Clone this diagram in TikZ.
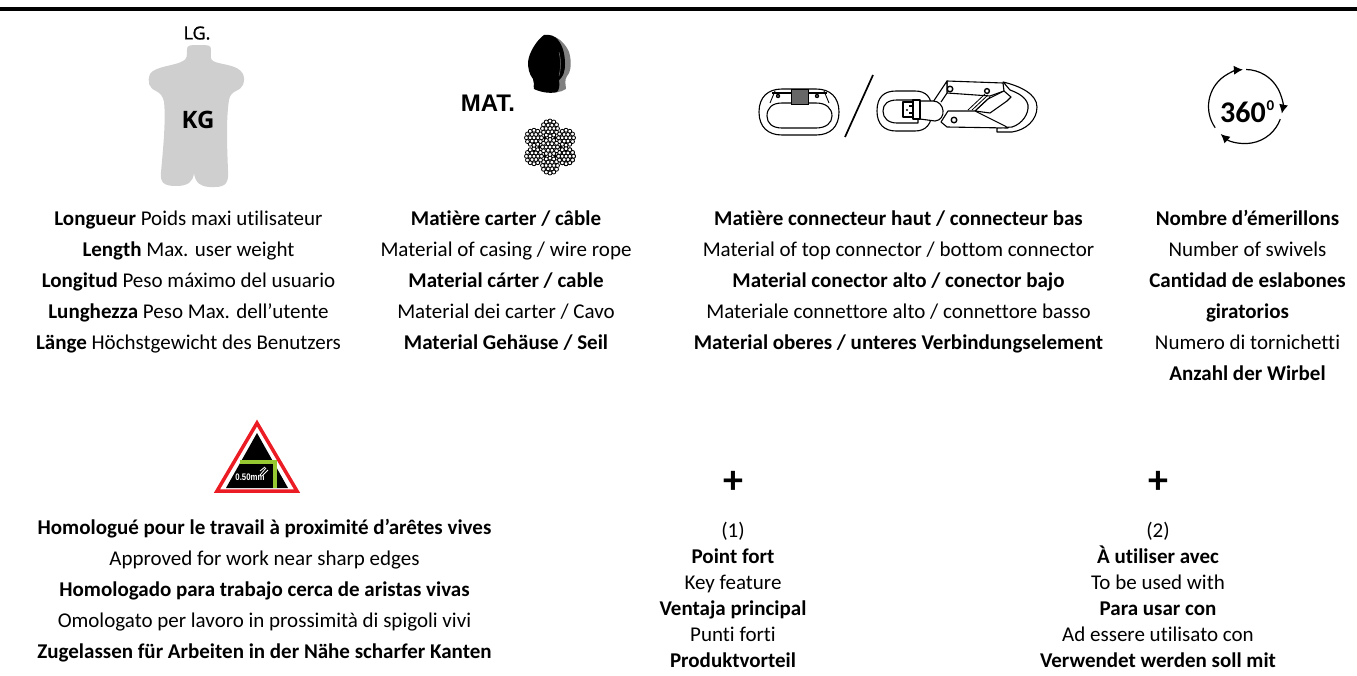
\documentclass[tikz,border=0pt]{standalone}
\usepackage{fontspec}
\setmainfont[Ligatures=NoCommon]{Carlito}
\newfontfamily\iconfont{Liberation Sans}
\newfontfamily\bodyfont{Open Sans}
\newfontfamily\lgfont[FakeBold=1]{Open Sans}
\usetikzlibrary{arrows.meta}
\definecolor{torso}{gray}{0.81}
\definecolor{tired}{RGB}{235,28,36}
\definecolor{tigreen}{RGB}{150,200,50}
\tikzset{
  block/.style={align=center,font=\fontsize{21}{31}\selectfont,inner sep=0pt,anchor=north},
  tight/.style={align=center,font=\fontsize{21}{26}\selectfont,inner sep=0pt,anchor=north},
  plus/.style={font=\fontsize{40}{40}\selectfont\bfseries,inner sep=0pt},
  icontext/.style={inner sep=0pt},
  wire/.style={draw=black,fill=white,line width=0.8pt},
  part/.style={draw=black,fill=white,line width=1.1pt,line join=round},
  turn/.style={line width=1.2pt,-{Latex[length=9pt,width=9pt]}}
}
\begin{document}
\begin{tikzpicture}[x=1pt,y=-1pt]
\useasboundingbox (0,0) rectangle (1357,675);
\fill[black] (0,7) rectangle (1357,11);
% torso
\fill[torso] (187,50) .. controls (187,45) and (189,45) .. (199,45) .. controls (209,45) and (211,45) .. (211,50)
 .. controls (211,56) and (210,59) .. (213,61) .. controls (220,65) and (238,64) .. (243,74)
 .. controls (246,82) and (243,88) .. (236,91) .. controls (232,93) and (230,95) .. (229,100)
 .. controls (226,120) and (227,145) .. (228,170) .. controls (229,182) and (226,187) .. (215,187)
 .. controls (200,188) and (195,182) .. (194,173) .. controls (193,182) and (188,186) .. (176,186)
 .. controls (163,186) and (160,182) .. (161,172) .. controls (163,150) and (166,120) .. (164,102)
 .. controls (163,96) and (160,93) .. (156,91) .. controls (149,88) and (147,82) .. (150,74)
 .. controls (155,66) and (175,66) .. (183,61) .. controls (187,59) and (187,56) .. (187,50) -- cycle;
\node[icontext,font=\lgfont\fontsize{18}{18}\selectfont] (lg) at (197,33) {LG.};
\node[icontext,font=\bodyfont\bfseries\fontsize{24}{24}\selectfont] (kg) at (198,120) {KG};
% casing
\fill[black!50] (552,36) .. controls (560,38) and (566,45) .. (569,52) .. controls (572,62) and (571,72) .. (567,76) .. controls (564,80) and (566,86) .. (566,89) .. controls (560,93) and (552,93) .. (546,92) -- cycle;
\fill[black] (544,35) .. controls (550,34) and (555,36) .. (558,40) .. controls (563,46) and (565,55) .. (565,64) .. controls (565,72) and (563,77) .. (559,80) .. controls (560,86) and (559,90) .. (557,92) .. controls (550,94) and (540,92) .. (534,89) .. controls (533,85) and (535,82) .. (533,79) .. controls (529,74) and (528,68) .. (528,62) .. controls (529,52) and (537,40) .. (544,35) -- cycle;
\draw[black!55,line width=0.5pt] (559,52) .. controls (561,60) and (561,68) .. (559,76);
\node[icontext,font=\iconfont\bfseries\fontsize{24}{24}\selectfont] (mat) at (488,103) {MAT.};
% wire rope
\begin{scope}[shift={(550,147)}]
 \foreach \a in {30,90,...,330,390}{
  \begin{scope}[shift={(\a:18.5)}]
   \foreach \b in {0,30,...,330}{\draw[wire] (\b:7.5) circle (2);}
   \foreach \b in {0,60,...,300}{\draw[wire] (\b:3.8) circle (2);}
   \draw[wire] (0,0) circle (2);
  \end{scope}
 }
 \foreach \b in {0,30,...,330}{\draw[wire] (\b:7.5) circle (2);}
 \foreach \b in {0,60,...,300}{\draw[wire] (\b:3.8) circle (2);}
 \draw[wire] (0,0) circle (2);
 \foreach \b in {0,60,...,300}{\fill[black] (\b:10.5) circle (1.8);}
\end{scope}
% carabiner
\draw[part] (759,112) .. controls (759,97) and (768,89) .. (782,89) -- (816,89) .. controls (830,89) and (839,97) .. (839,112) .. controls (839,127) and (830,135) .. (816,135) -- (782,135) .. controls (768,135) and (759,127) .. (759,112) -- cycle;
\draw[part] (767,116) .. controls (767,108) and (772,103) .. (782,103) -- (816,103) .. controls (826,103) and (832,108) .. (832,116) .. controls (832,123) and (826,128) .. (816,128) -- (782,128) .. controls (772,128) and (767,123) .. (767,116) -- cycle;
\draw[part] (772,93) -- (827,93);
\fill[black!60,draw=black,line width=0.6pt] (791,89) rectangle (808,104);
\draw[line width=0.9pt] (770,103) -- (775,91) (829,103) -- (824,91);
\fill[black] (778,96) circle (2.2) (817,96) circle (2.2);
\fill[white] (778,96) circle (0.6) (817,96) circle (0.6);
% slash
\draw[line width=1.7pt] (873,75) -- (845,137);
% swivel eye
\draw[part] (877,111) .. controls (877,97) and (884,91) .. (896,91) -- (915,91) .. controls (926,91) and (932,97) .. (932,111) .. controls (932,124) and (926,131) .. (915,131) -- (896,131) .. controls (884,131) and (877,124) .. (877,111) -- cycle;
\draw[part] (883,111) .. controls (883,104) and (888,100) .. (897,100) -- (918,100) -- (918,123) -- (897,123) .. controls (888,123) and (883,118) .. (883,111) -- cycle;
% hook nose
\draw[part] (1003,82) .. controls (1020,86) and (1037,94) .. (1037,107) .. controls (1037,120) and (1026,130) .. (1012,132) -- (997,132) -- (997,128) -- (1012,127) .. controls (1022,124) and (1029,114) .. (1028,105) .. controls (1026,97) and (1018,93) .. (1010,90) .. controls (1008,88) and (1006,85) .. (1003,82) -- cycle;
% upper plate
\draw[part] (947,81) -- (1003,83) -- (1004,91) -- (990,96) -- (947,93) -- cycle;
\draw[part] (933,102) -- (947,81) -- (947,93) -- (941,102);
% gate
\draw[part] (1004,91) -- (1011,97) -- (1007,101) -- (990,113) -- (975,111) -- (988,99) -- cycle;
% lower plate
\draw[part] (948,111) -- (975,111) -- (1005,126) -- (1008,128) -- (947,127) -- (941,122) -- cycle;
% barrel and knob
\draw[part] (920,101) -- (933,101) .. controls (945,101) and (947,120) .. (935,121) -- (920,119) -- cycle;
\draw[part] (903,102) rectangle (913,117);
\draw[part] (913,100) rectangle (920,119);
\fill[black] (907,110) circle (1.1);
\draw[line width=1.2pt] (909,106) -- (913,106) (909,113) -- (913,113);
% rivets
\draw[part,line width=1.4pt] (950,89) circle (2.8) (987,91) circle (2.4) (954,120) circle (2.8);
\draw[line width=0.8pt] (968,110) -- (985,94) (972,110) -- (988,95) (976,110) -- (990,97);
% 360
\coordinate (rotc) at (1245.5,106.5);
\draw[turn] (rotc) ++(-89:37) arc[start angle=-89,end angle=11,radius=37];
\draw[turn] (rotc) ++(20:37) arc[start angle=20,end angle=132,radius=37];
\draw[turn] (rotc) ++(145:37) arc[start angle=145,end angle=266,radius=37];
\node[icontext,font=\fontsize{30}{30}\selectfont\bfseries] (deg) at (1243,112) {360};
\node[icontext,font=\fontsize{15}{15}\selectfont\bfseries] (degz) at (1270.5,106) {0};
% sharp-edge triangle
\draw[tired,fill=white,line width=3.5pt,line join=miter] (257,423) -- (297,491) -- (217,491) -- cycle;
\fill[black] (257,433) -- (288,488) -- (226,488) -- cycle;
\draw[tigreen,line width=4.5pt] (240,462) -- (275,462) -- (275,488);
\node[icontext,text=white,font=\iconfont\bfseries\fontsize{9.5}{10}\selectfont,xscale=.82] (edge) at (250,477) {0.50mm};
\draw[white,line width=0.8pt] (260,475) -- (266,468) (263,475) -- (268,470) (260,471) -- (265,467);
% texts
\node[block] (t1) at (188.5,211) {\textbf{Longueur} Poids maxi utilisateur\\\textbf{Length} Max. user weight\\\textbf{Longitud} Peso máximo del usuario\\\textbf{Lunghezza} Peso Max. dell’utente\\\textbf{Länge} Höchstgewicht des Benutzers};
\node[block] (t2) at (506,211) {\textbf{Matière carter / câble}\\Material of casing / wire rope\\\textbf{Material cárter / cable}\\Material dei carter / Cavo\\\textbf{Material Gehäuse / Seil}};
\node[block] (t3) at (898.5,211) {\textbf{Matière connecteur haut / connecteur bas}\\Material of top connector / bottom connector\\\textbf{Material conector alto / conector bajo}\\Materiale connettore alto / connettore basso\\\textbf{Material oberes / unteres Verbindungselement}};
\node[block] (t4) at (1247.5,210) {\textbf{Nombre d’émerillons}\\Number of swivels\\\textbf{Cantidad de eslabones}\\\textbf{giratorios}\\Numero di tornichetti\\\textbf{Anzahl der Wirbel}};
\node[block] (t5) at (264.5,519) {\textbf{Homologué pour le travail à proximité d’arêtes vives}\\Approved for work near sharp edges\\\textbf{Homologado para trabajo cerca de aristas vivas}\\Omologato per lavoro in prossimità di spigoli vivi\\\textbf{Zugelassen für Arbeiten in der Nähe scharfer Kanten}};
\node[plus] (p1) at (733,482) {+};
\node[plus] (p2) at (1158,482) {+};
\node[tight] (t6) at (733,522) {(1)\\\textbf{Point fort}\\Key feature\\\textbf{Ventaja principal}\\Punti forti\\\textbf{Produktvorteil}};
\node[tight] (t7) at (1158,522) {(2)\\\textbf{À utiliser avec}\\To be used with\\\textbf{Para usar con}\\Ad essere utilisato con\\\textbf{Verwendet werden soll mit}};
\end{tikzpicture}
\end{document}
